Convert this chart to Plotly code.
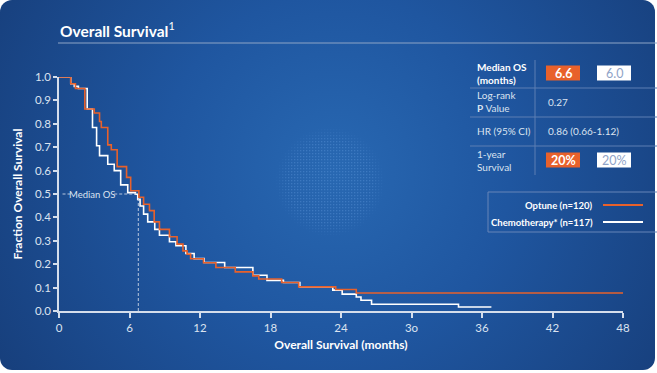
import base64
import plotly.graph_objects as go

# ---------------- data ----------------
optune_months = [0, 1.0, 1.4, 2.2, 3.0, 3.45, 3.6, 4.15, 4.45, 4.95, 5.75, 6.1, 6.8, 7.2, 7.7,
                 8.1, 8.55, 9.4, 10.05, 10.55, 10.9, 11.2, 12.3, 13.35, 15.0, 16.5, 17.0,
                 18.95, 20.4, 23.55, 25.3, 48]
optune_surv = [1.0, 0.971, 0.951, 0.863, 0.846, 0.81, 0.784, 0.71, 0.689, 0.617, 0.571, 0.514,
               0.486, 0.456, 0.429, 0.381, 0.349, 0.317, 0.286, 0.257, 0.243, 0.223, 0.206,
               0.186, 0.167, 0.15, 0.137, 0.122, 0.103, 0.092, 0.077, 0.077]

chemo_months = [0, 1.0, 1.3, 1.65, 2.4, 2.85, 3.2, 3.45, 4.15, 4.7, 5.25, 5.85, 6.5, 6.7, 6.9,
                7.2, 7.55, 8.15, 8.55, 9.4, 9.95, 10.8, 11.5, 12.35, 14.1, 16.5, 17.7, 19.1,
                20.5, 23.3, 24.1, 25.3, 25.7, 26.6, 34.0, 36.8]
chemo_surv = [1.0, 0.971, 0.96, 0.951, 0.863, 0.784, 0.706, 0.664, 0.627, 0.6, 0.539, 0.506,
              0.499, 0.477, 0.449, 0.414, 0.381, 0.349, 0.324, 0.296, 0.279, 0.246, 0.224,
              0.207, 0.186, 0.153, 0.131, 0.122, 0.103, 0.089, 0.072, 0.06, 0.046, 0.029,
              0.017, 0.017]

x_tick_vals = [0, 6, 12, 18, 24, 30, 36, 42, 48]
x_tick_text = ["0", "6", "12", "18", "24", "3o", "36", "42", "48"]
y_tick_vals = [0.0, 0.1, 0.2, 0.3, 0.4, 0.5, 0.6, 0.7, 0.8, 0.9, 1.0]
y_tick_text = ["0.0", "0.1", "0.2", "0.3", "0.4", "0.5", "0.6", "0.7", "0.8", "0.9", "1.0"]

median_line_x = 6.75
median_level = 0.5

series_names = ["Optune (n=120)", "Chemotherapy* (n=117)"]
table_labels = ["<b>Median OS</b><br><b>(months)</b>", "Log-rank<br><b>P</b> Value",
                "HR (95% CI)", "1-year<br>Survival"]
median_os = ["6.6", "6.0"]
p_value = "0.27"
hr_text = "0.86 (0.66-1.12)"
one_year = ["20%", "20%"]

# ---------------- style ----------------
W, H = 657, 373
L, R, T, B = 59, 34, 77, 62
PW, PH = W - L - R, H - T - B
ORANGE = "#e8612b"
WHITE = "#ffffff"
AXIS = "#d5deec"
TXT = "#dbe3f0"
FONT = "Lato"


def px(xp):
    return (xp - L) / PW


def py(yp):
    return (H - B - yp) / PH


svg = f"""<svg xmlns='http://www.w3.org/2000/svg' width='{W}' height='{H}'>
<defs>
<radialGradient id='g' cx='335' cy='170' r='390' gradientUnits='userSpaceOnUse'>
<stop offset='0' stop-color='#2868b2'/>
<stop offset='0.45' stop-color='#1f56a0'/>
<stop offset='1' stop-color='#173f7c'/>
</radialGradient>
<pattern id='d' width='3' height='3' patternUnits='userSpaceOnUse'>
<rect width='1.3' height='1.3' fill='#5f98dc'/>
</pattern>
<radialGradient id='f' cx='0.5' cy='0.5' r='0.5'>
<stop offset='0.75' stop-color='white' stop-opacity='1'/>
<stop offset='1' stop-color='white' stop-opacity='0'/>
</radialGradient>
<mask id='m'><circle cx='330' cy='182' r='55' fill='url(#f)'/></mask>
</defs>
<rect x='0' y='0' width='{W-2}' height='{H-3}' rx='12' ry='12' fill='url(#g)'/>
<circle cx='330' cy='182' r='55' fill='url(#d)' opacity='0.4' mask='url(#m)'/>
</svg>"""
src = "data:image/svg+xml;base64," + base64.b64encode(svg.encode()).decode()

fig = go.Figure()
fig.add_trace(go.Scatter(x=chemo_months, y=chemo_surv, mode="lines", name=series_names[1],
                         line=dict(color=WHITE, width=1.6, shape="hv"), cliponaxis=False))
fig.add_trace(go.Scatter(x=optune_months, y=optune_surv, mode="lines", name=series_names[0],
                         line=dict(color=ORANGE, width=1.6, shape="hv"), cliponaxis=False))

shapes = []
annotations = []

# median OS dashed guides
dash = dict(color="#b9c7de", width=1, dash="3px,2px")
shapes.append(dict(type="line", xref="x", yref="y", x0=0.3, x1=1.0, y0=median_level,
                   y1=median_level, line=dash))
shapes.append(dict(type="line", xref="x", yref="y", x0=4.7, x1=median_line_x - 0.2,
                   y0=median_level, y1=median_level, line=dash))
shapes.append(dict(type="line", xref="x", yref="y", x0=median_line_x, x1=median_line_x,
                   y0=0, y1=median_level - 0.02, line=dash))
annotations.append(dict(xref="x", yref="y", x=2.85, y=median_level, text="Median OS",
                        showarrow=False, font=dict(family=FONT, size=9.5, color=TXT)))

# title + rule
annotations.append(dict(xref="paper", yref="paper", x=px(58), y=py(29), xanchor="left",
                        yanchor="middle", text="<b>Overall Survival</b><sup>1</sup>",
                        showarrow=False, font=dict(family=FONT, size=15.5, color=WHITE)))
shapes.append(dict(type="line", xref="paper", yref="paper", x0=px(58), x1=px(657),
                   y0=py(43), y1=py(43), line=dict(color="#8ea5c6", width=1)))

# table
shapes.append(dict(type="line", xref="paper", yref="paper", x0=px(535), x1=px(535),
                   y0=py(60), y1=py(175), line=dict(color="#5d7fb3", width=1)))
for yy in [88, 117, 146]:
    shapes.append(dict(type="line", xref="paper", yref="paper", x0=px(470), x1=px(657),
                       y0=py(yy), y1=py(yy), line=dict(color="#5d7fb3", width=1)))
row_y = [73, 102, 131, 160]
for lab, yy in zip(table_labels, row_y):
    annotations.append(dict(xref="paper", yref="paper", x=px(475), y=py(yy), xanchor="left",
                            yanchor="middle", align="left", text=lab, showarrow=False,
                            font=dict(family=FONT, size=10,
                                      color=WHITE if yy == 73 else TXT)))


def boxes(vals, yc):
    for i, v in enumerate(vals):
        x0 = 546 if i == 0 else 597
        x1 = x0 + 34
        shapes.append(dict(type="rect", xref="paper", yref="paper", x0=px(x0), x1=px(x1),
                           y0=py(yc + 7.5), y1=py(yc - 7.5),
                           fillcolor=ORANGE if i == 0 else WHITE,
                           line=dict(color=ORANGE if i == 0 else WHITE, width=0)))
        annotations.append(dict(xref="paper", yref="paper", x=px((x0 + x1) / 2), y=py(yc),
                                xanchor="center", yanchor="middle",
                                text=f"<b>{v}</b>" if i == 0 else v, showarrow=False,
                                font=dict(family=FONT, size=12.5,
                                          color=WHITE if i == 0 else "#8fa3c7")))


boxes(median_os, 73)
boxes(one_year, 160)
annotations.append(dict(xref="paper", yref="paper", x=px(546), y=py(102), xanchor="left",
                        yanchor="middle", text=p_value, showarrow=False,
                        font=dict(family=FONT, size=10, color=TXT)))
annotations.append(dict(xref="paper", yref="paper", x=px(546), y=py(131), xanchor="left",
                        yanchor="middle", text=hr_text, showarrow=False,
                        font=dict(family=FONT, size=10, color=TXT)))

# legend box
shapes.append(dict(type="rect", xref="paper", yref="paper", x0=px(488), x1=px(660),
                   y0=py(232), y1=py(192), line=dict(color="#6685b8", width=1),
                   fillcolor="rgba(0,0,0,0)"))
for name, col, yy in [(series_names[0], ORANGE, 205), (series_names[1], WHITE, 222)]:
    annotations.append(dict(xref="paper", yref="paper", x=px(595), y=py(yy), xanchor="right",
                            yanchor="middle", text=f"<b>{name}</b>", showarrow=False,
                            font=dict(family=FONT, size=9.5, color=WHITE)))
    shapes.append(dict(type="line", xref="paper", yref="paper", x0=px(603), x1=px(643),
                       y0=py(yy), y1=py(yy), line=dict(color=col, width=2)))

fig.update_layout(
    width=W, height=H,
    margin=dict(l=L, r=R, t=T, b=B),
    paper_bgcolor="white",
    plot_bgcolor="rgba(0,0,0,0)",
    showlegend=False,
    images=[dict(source=src, xref="paper", yref="paper", x=-L / PW, y=(H - B) / PH,
                 sizex=W / PW, sizey=H / PH, xanchor="left", yanchor="top",
                 sizing="stretch", layer="below")],
    shapes=shapes,
    annotations=annotations,
    xaxis=dict(range=[0, 48], tickvals=x_tick_vals, ticktext=x_tick_text, showgrid=False,
               zeroline=False, showline=True, linecolor=AXIS, linewidth=1.5,
               ticks="outside", ticklen=5, tickcolor=AXIS, tickwidth=1.5,
               tickfont=dict(family=FONT, size=11.5, color=TXT),
               title=dict(text="<b>Overall Survival (months)</b>", standoff=8,
                          font=dict(family=FONT, size=12, color=WHITE))),
    yaxis=dict(range=[0, 1.0], tickvals=y_tick_vals, ticktext=y_tick_text, showgrid=False,
               zeroline=False, showline=True, linecolor=AXIS, linewidth=1.5,
               ticks="outside", ticklen=4, tickcolor=AXIS, tickwidth=1.5,
               tickfont=dict(family=FONT, size=11.5, color=TXT),
               title=dict(text="<b>Fraction Overall Survival</b>", standoff=10,
                          font=dict(family=FONT, size=12, color=WHITE))),
)

fig.write_html("out.html", config={"displayModeBar": False},
               post_script="document.body.style.margin='0';document.body.style.overflow='hidden';")
